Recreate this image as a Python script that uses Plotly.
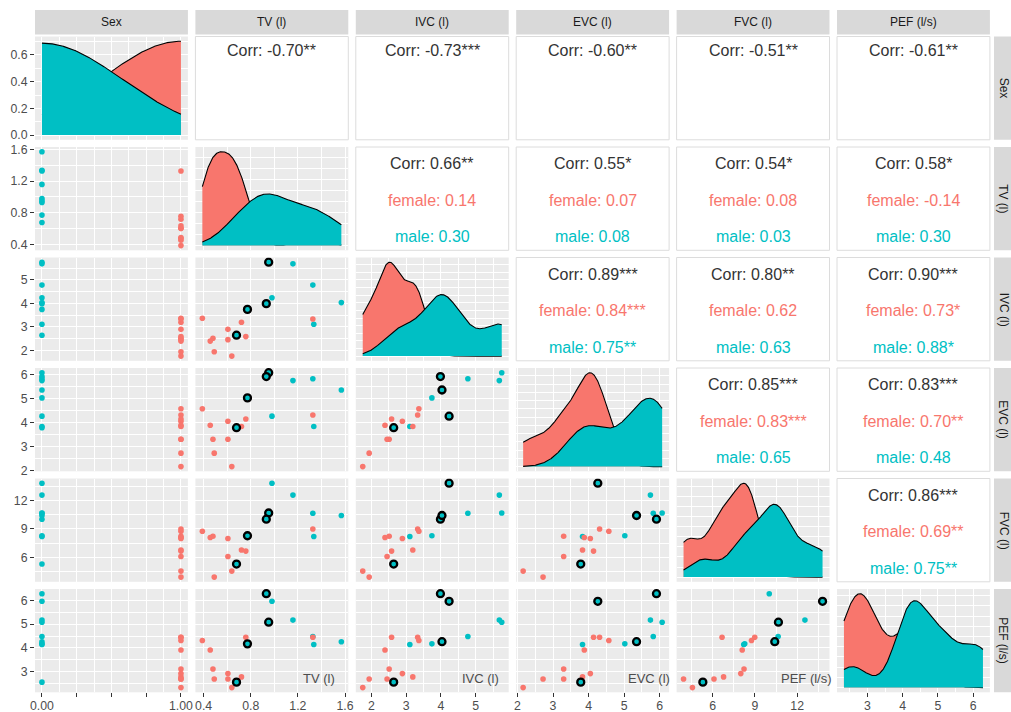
import numpy as np
import plotly.graph_objects as go

# ---------------- data ----------------
var_keys = ["Sex", "TV", "IVC", "EVC", "FVC", "PEF"]
var_labels = ["Sex", "TV (l)", "IVC (l)", "EVC (l)", "FVC (l)", "PEF (l/s)"]

# 9 male subjects (Sex = 0) followed by 10 female subjects (Sex = 1)
sex = [0, 0, 0, 0, 0, 0, 0, 0, 0, 1, 1, 1, 1, 1, 1, 1, 1, 1, 1]
tv = [0.952, 1.158, 1.327, 0.980, 0.932, 1.569, 0.772, 1.335, 0.679,
      0.389, 0.721, 1.327, 0.606, 0.758, 0.479, 0.456, 0.606, 0.490, 0.639]
ivc = [5.75, 5.68, 4.775, 4.235, 3.985, 4.03, 3.74, 3.105, 2.64,
       3.365, 3.19, 3.33, 2.89, 2.58, 2.51, 2.39, 2.45, 1.935, 1.75]
evc = [6.07, 5.74, 5.82, 4.26, 5.91, 5.35, 5.02, 3.83, 3.78,
       4.57, 3.83, 4.31, 4.05, 4.14, 3.30, 3.88, 3.30, 2.72, 2.16]
fvc = [10.67, 12.55, 10.65, 13.8, 10.02, 10.41, 8.28, 8.21, 5.31,
       8.76, 6.78, 8.99, 8.0, 6.67, 8.23, 8.1, 6.1, 3.94, 4.57]
pef = [5.08, 5.17, 4.48, 5.96, 6.28, 4.26, 4.17, 4.14, 2.56,
       4.31, 2.78, 4.45, 2.92, 4.45, 3.11, 3.91, 2.69, 2.69, 2.33]

# subjects outlined in black, by the variable on the x axis of the panel
highlight_by_x = {"TV": [0, 4, 6, 8], "IVC": [3, 4, 5, 8],
                  "EVC": [3, 4, 5, 8], "FVC": [0, 3, 5, 8]}

major_ticks = {"Sex": [0, 0.25, 0.5, 0.75, 1.0],
               "TV": [0.4, 0.8, 1.2, 1.6],
               "IVC": [2, 3, 4, 5],
               "EVC": [2, 3, 4, 5, 6],
               "FVC": [6, 9, 12],
               "PEF": [3, 4, 5, 6]}
tick_text = {"Sex": ["0.00", "", "", "", "1.00"],
             "TV": ["0.4", "0.8", "1.2", "1.6"],
             "IVC": ["2", "3", "4", "5"],
             "EVC": ["2", "3", "4", "5", "6"],
             "FVC": ["6", "9", "12"],
             "PEF": ["3", "4", "5", "6"]}
density_ticks = [0.0, 0.2, 0.4, 0.6]
density_tick_text = ["0.0", "0.2", "0.4", "0.6"]

corr_labels = {
    (0, 1): ["Corr: -0.70**"], (0, 2): ["Corr: -0.73***"], (0, 3): ["Corr: -0.60**"],
    (0, 4): ["Corr: -0.51**"], (0, 5): ["Corr: -0.61**"],
    (1, 2): ["Corr: 0.66**", "female: 0.14", "male: 0.30"],
    (1, 3): ["Corr: 0.55*", "female: 0.07", "male: 0.08"],
    (1, 4): ["Corr: 0.54*", "female: 0.08", "male: 0.03"],
    (1, 5): ["Corr: 0.58*", "female: -0.14", "male: 0.30"],
    (2, 3): ["Corr: 0.89***", "female: 0.84***", "male: 0.75**"],
    (2, 4): ["Corr: 0.80**", "female: 0.62", "male: 0.63"],
    (2, 5): ["Corr: 0.90***", "female: 0.73*", "male: 0.88*"],
    (3, 4): ["Corr: 0.85***", "female: 0.83***", "male: 0.65"],
    (3, 5): ["Corr: 0.83***", "female: 0.70**", "male: 0.48"],
    (4, 5): ["Corr: 0.86***", "female: 0.69**", "male: 0.75**"],
}
bottom_panel_labels = {1: "TV (l)", 2: "IVC (l)", 3: "EVC (l)", 4: "PEF (l/s)"}
bottom_label_centers = {1: 318.7, 2: 480.3, 3: 648.5, 4: 806.3}

# ---------------- styling ----------------
FEMALE = "#F8766D"
MALE = "#00BFC4"
FONT = "Liberation Sans, Arial, sans-serif"
W, H = 1011, 712
PX0, PW, PGX = 35.0, 152.9, 7.5
PY0, PH, PGY = 36.5, 103.3, 7.2

def left(j): return PX0 + j * (PW + PGX)
def top(i): return PY0 + i * (PH + PGY)
def px(xp): return xp / W
def py(yp): return 1 - yp / H
def xdom(j): return [px(left(j)), px(left(j) + PW)]
def ydom(i): return [py(top(i) + PH), py(top(i))]

data = {"Sex": sex, "TV": tv, "IVC": ivc, "EVC": evc, "FVC": fvc, "PEF": pef}
arr = {k: np.array(v, float) for k, v in data.items()}
male = np.array(sex) == 0
female = ~male

def expand(v):
    lo, hi = float(np.min(v)), float(np.max(v))
    r = hi - lo
    return [lo - 0.05 * r, hi + 0.05 * r]

def minors(ticks):
    t = list(ticks)
    step = t[1] - t[0]
    ext = [t[0] - step] + t + [t[-1] + step]
    return [(a + b) / 2 for a, b in zip(ext[:-1], ext[1:])]

def pretty(lo, hi, n=5):
    raw = (hi - lo) / n
    mag = 10 ** np.floor(np.log10(raw))
    best = min([1, 2, 5, 10], key=lambda m: abs((hi - lo) / (m * mag) - n))
    step = best * mag
    return list(np.arange(np.floor(lo / step) * step, hi + step * 1.001, step))

def bw_nrd0(x):
    hi = np.std(x, ddof=1)
    q75, q25 = np.percentile(x, [75, 25])
    lo = min(hi, (q75 - q25) / 1.34)
    if not lo:
        lo = hi or abs(x[0]) or 1.0
    return 0.9 * lo * len(x) ** -0.2

def kde(x, grid):
    bw = bw_nrd0(x)
    z = (grid[:, None] - x[None, :]) / bw
    return np.exp(-0.5 * z ** 2).sum(1) / (len(x) * bw * np.sqrt(2 * np.pi))

tickfont = dict(family=FONT, size=12.3, color="#4D4D4D")

def base_axis():
    return dict(showgrid=True, gridcolor="white", gridwidth=1.1, zeroline=False,
                showline=False, automargin=False, fixedrange=True,
                tickmode="array", ticks="", ticklen=4, tickwidth=1.05,
                tickcolor="#333333", tickfont=tickfont)

layout = dict(width=W, height=H, margin=dict(l=0, r=0, t=0, b=0),
              paper_bgcolor="white", plot_bgcolor="#EBEBEB", showlegend=False,
              font=dict(family=FONT), shapes=[], annotations=[])
traces = []

k = 0
for i in range(6):
    for j in range(i + 1):
        k += 1
        sfx = "" if k == 1 else str(k)
        xv, yv = var_keys[j], var_keys[i]
        xa = base_axis()
        ya = base_axis()
        xa.update(domain=xdom(j), anchor="y" + sfx, range=expand(arr[xv]),
                  tickvals=major_ticks[xv], ticktext=tick_text[xv],
                  minor=dict(tickvals=minors(major_ticks[xv]), showgrid=True,
                             gridcolor="white", gridwidth=0.55),
                  showticklabels=(i == 5), ticks="outside" if i == 5 else "",
                  ticklabelstandoff=-2)
        if i == j:
            x = arr[xv]
            grid = np.linspace(x.min(), x.max(), 512)
            df = kde(x[female], grid)
            dm = kde(x[male], grid)
            ymax = max(df.max(), dm.max())
            for d, col in ((df, FEMALE), (dm, MALE)):
                traces.append(go.Scatter(x=grid, y=d, mode="lines", fill="tozeroy",
                                         fillcolor=col, line=dict(color="black", width=1.1),
                                         xaxis="x" + sfx, yaxis="y" + sfx, hoverinfo="skip"))
            if i == 0:
                yt, ytt = density_ticks, density_tick_text
            else:
                yt = pretty(0, ymax)
                ytt = [""] * len(yt)
            ya.update(domain=ydom(i), anchor="x" + sfx,
                      range=[-0.05 * ymax, 1.05 * ymax], tickvals=yt, ticktext=ytt,
                      minor=dict(tickvals=minors(yt), showgrid=True,
                                 gridcolor="white", gridwidth=0.55),
                      showticklabels=(j == 0), ticks="outside" if j == 0 else "")
        else:
            ya.update(domain=ydom(i), anchor="x" + sfx, range=expand(arr[yv]),
                      tickvals=major_ticks[yv], ticktext=tick_text[yv],
                      minor=dict(tickvals=minors(major_ticks[yv]), showgrid=True,
                                 gridcolor="white", gridwidth=0.55),
                      showticklabels=(j == 0), ticks="outside" if j == 0 else "")
            for mask, col in ((male, MALE), (female, FEMALE)):
                traces.append(go.Scatter(x=arr[xv][mask], y=arr[yv][mask], mode="markers",
                                         marker=dict(color=col, size=5.6),
                                         xaxis="x" + sfx, yaxis="y" + sfx, hoverinfo="skip"))
            if xv in highlight_by_x:
                idx = highlight_by_x[xv]
                traces.append(go.Scatter(x=arr[xv][idx], y=arr[yv][idx], mode="markers",
                                         marker=dict(color=MALE, size=7,
                                                     line=dict(color="black", width=2.3)),
                                         xaxis="x" + sfx, yaxis="y" + sfx, hoverinfo="skip"))
        layout["xaxis" + sfx] = xa
        layout["yaxis" + sfx] = ya

# upper triangle: correlation text panels
fracs3 = [0.16, 0.515, 0.87]
for (i, j), lines in corr_labels.items():
    x0, y0 = left(j), top(i)
    layout["shapes"].append(dict(type="rect", xref="paper", yref="paper",
                                 x0=px(x0), x1=px(x0 + PW), y0=py(y0 + PH), y1=py(y0),
                                 fillcolor="white", line=dict(color="#DCDCDC", width=1)))
    cols = ["#333333", FEMALE, MALE]
    fr = [0.135] if len(lines) == 1 else fracs3
    for t, f, c in zip(lines, fr, cols):
        layout["annotations"].append(dict(
            text=t, xref="paper", yref="paper", x=px(x0 + PW / 2), y=py(y0 + f * PH),
            xanchor="center", yanchor="middle", showarrow=False,
            font=dict(family=FONT, size=16, color=c)))

# strips
for j in range(6):
    layout["shapes"].append(dict(type="rect", xref="paper", yref="paper",
                                 x0=px(left(j)), x1=px(left(j) + PW), y0=py(34.5), y1=py(10),
                                 fillcolor="#D9D9D9", line=dict(width=0)))
    layout["annotations"].append(dict(text=var_labels[j], xref="paper", yref="paper",
                                      x=px(left(j) + PW / 2), y=py(22.3), xanchor="center",
                                      yanchor="middle", showarrow=False,
                                      font=dict(family=FONT, size=12, color="#1A1A1A")))
for i in range(6):
    layout["shapes"].append(dict(type="rect", xref="paper", yref="paper",
                                 x0=px(994), x1=px(1011), y0=py(top(i) + PH), y1=py(top(i)),
                                 fillcolor="#D9D9D9", line=dict(width=0)))
    layout["annotations"].append(dict(text=var_labels[i], xref="paper", yref="paper",
                                      x=px(1003.5), y=py(top(i) + PH / 2), xanchor="center",
                                      yanchor="middle", textangle=90, showarrow=False,
                                      font=dict(family=FONT, size=12, color="#1A1A1A")))

# labels inside the bottom-row panels
for j, t in bottom_panel_labels.items():
    layout["annotations"].append(dict(text=t, xref="paper", yref="paper",
                                      x=px(bottom_label_centers[j]), y=py(678.5),
                                      xanchor="center", yanchor="middle", showarrow=False,
                                      font=dict(family=FONT, size=13, color="#4D4D4D")))

fig = go.Figure(data=traces, layout=layout)
fig.write_html("out.html", config={"displayModeBar": False},
               post_script="document.body.style.margin='0';"
                           "document.body.style.overflow='hidden';")
